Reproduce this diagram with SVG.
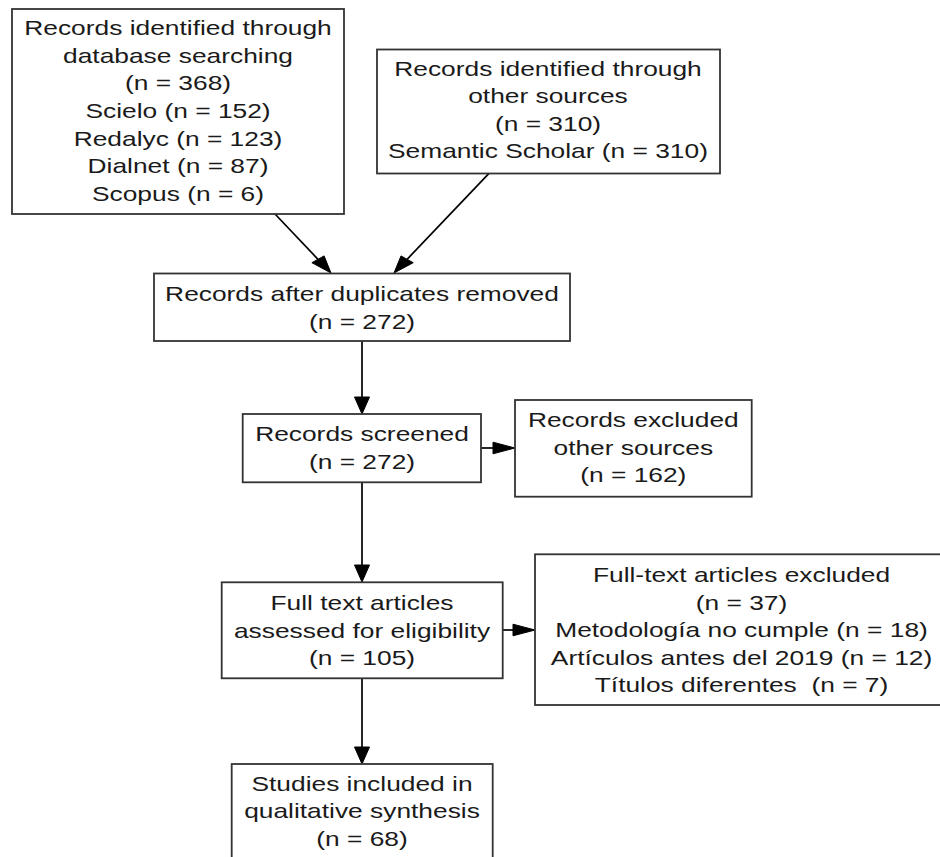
<svg xmlns="http://www.w3.org/2000/svg" width="940" height="857" viewBox="0 0 940 857">
<style>
.box{fill:#fff;stroke:#333;stroke-width:1.8}
.t{font-family:"Liberation Sans",Arial,sans-serif;font-size:21px;fill:#1a1a1a;text-anchor:middle;white-space:pre}
.ln{stroke:#000;stroke-width:1.7;fill:none}
.hd{fill:#000;stroke:#000;stroke-width:1}
</style>
<rect width="940" height="857" fill="#fff"/>
<g id="connectors">
<line class="ln" x1="275" y1="214" x2="318" y2="259.3"/>
<polygon class="hd" points="311.9,262.7 324.1,255.9 331,273"/>
<line class="ln" x1="489" y1="173.3" x2="407.1" y2="259.3"/>
<polygon class="hd" points="401,255.9 413.2,262.7 394,273"/>
<line class="ln" x1="362" y1="341" x2="362" y2="397"/>
<polygon class="hd" points="354.5,397 369.5,397 362,414"/>
<line class="ln" x1="481" y1="448" x2="493" y2="448"/>
<polygon class="hd" points="493,442.2 493,453.8 515,448"/>
<line class="ln" x1="362" y1="482" x2="362" y2="565"/>
<polygon class="hd" points="354.5,565 369.5,565 362,582"/>
<line class="ln" x1="503" y1="630" x2="513" y2="630"/>
<polygon class="hd" points="513,624.2 513,635.8 535,630"/>
<line class="ln" x1="362" y1="678" x2="362" y2="747"/>
<polygon class="hd" points="354.5,747 369.5,747 362,764"/>
</g>
<g id="node-db">
<rect class="box" x="12" y="9" width="332" height="205"/>
<text class="t" transform="translate(178,0) scale(1.255,1)"><tspan x="0" y="35.3">Records identified through</tspan><tspan x="0" y="62.9">database searching</tspan><tspan x="0" y="90.5">(n = 368)</tspan><tspan x="0" y="118.1">Scielo (n = 152)</tspan><tspan x="0" y="145.7">Redalyc (n = 123)</tspan><tspan x="0" y="173.3">Dialnet (n = 87)</tspan><tspan x="0" y="200.9">Scopus (n = 6)</tspan></text>
</g>
<g id="node-other">
<rect class="box" x="377" y="49.5" width="343" height="124"/>
<text class="t" transform="translate(548,0) scale(1.255,1)"><tspan x="0" y="76">Records identified through</tspan><tspan x="0" y="103.5">other sources</tspan><tspan x="0" y="131">(n = 310)</tspan><tspan x="0" y="158.5">Semantic Scholar (n = 310)</tspan></text>
</g>
<g id="node-dup">
<rect class="box" x="154" y="273.5" width="416" height="67.5"/>
<text class="t" transform="translate(362,0) scale(1.255,1)"><tspan x="0" y="301">Records after duplicates removed</tspan><tspan x="0" y="328.6">(n = 272)</tspan></text>
</g>
<g id="node-screened">
<rect class="box" x="242.7" y="414" width="238.3" height="68.3"/>
<text class="t" transform="translate(362,0) scale(1.255,1)"><tspan x="0" y="441.2">Records screened</tspan><tspan x="0" y="468.8">(n = 272)</tspan></text>
</g>
<g id="node-excluded">
<rect class="box" x="515" y="400" width="236.7" height="96.7"/>
<text class="t" transform="translate(633.3,0) scale(1.255,1)"><tspan x="0" y="427.2">Records excluded</tspan><tspan x="0" y="454.8">other sources</tspan><tspan x="0" y="482.4">(n = 162)</tspan></text>
</g>
<g id="node-fulltext">
<rect class="box" x="221.7" y="582.3" width="281" height="96"/>
<text class="t" transform="translate(362,0) scale(1.255,1)"><tspan x="0" y="610.2">Full text articles</tspan><tspan x="0" y="637.8">assessed for eligibility</tspan><tspan x="0" y="665.4">(n = 105)</tspan></text>
</g>
<g id="node-ftexcluded">
<rect class="box" x="535" y="554.3" width="413" height="150.7"/>
<text class="t" transform="translate(741.5,0) scale(1.255,1)"><tspan x="0" y="582.2">Full-text articles excluded</tspan><tspan x="0" y="609.7">(n = 37)</tspan><tspan x="0" y="637.2">Metodología no cumple (n = 18)</tspan><tspan x="0" y="664.7">Artículos antes del 2019 (n = 12)</tspan><tspan x="0" y="692.2">Títulos diferentes  (n = 7)</tspan></text>
</g>
<g id="node-included">
<rect class="box" x="231.7" y="764" width="261" height="110"/>
<text class="t" transform="translate(362,0) scale(1.255,1)"><tspan x="0" y="791.2">Studies included in</tspan><tspan x="0" y="818.5">qualitative synthesis</tspan><tspan x="0" y="845.9">(n = 68)</tspan></text>
</g>
</svg>
